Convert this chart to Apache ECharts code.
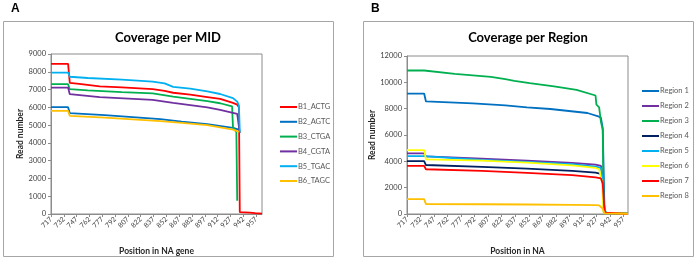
<!DOCTYPE html>
<html>
<head>
<meta charset="utf-8">
<script src="https://cdn.jsdelivr.net/npm/echarts@6/dist/echarts.min.js"></script>
<style>
  html, body { margin: 0; padding: 0; background: #fff; }
  #chart { width: 697px; height: 261px; }
</style>
</head>
<body>
<div id="chart"></div>
<script>
// --- tick labels ---
const positionTicks = [717, 732, 747, 762, 777, 792, 807, 822, 837, 852, 867, 882, 897, 912, 927, 942, 957]

// --- A: coverage per MID, [position, read number] ---
const b1Actg = [[717, 8450], [737, 8450], [739, 7380], [750, 7320], [774, 7180], [800, 7120], [836, 7020], [850, 6920], [860, 6820], [880, 6720], [900, 6580], [915, 6470], [930, 6250], [935, 6150], [937, 6000], [938, 100], [950, 80], [956, 50], [964, 20]]
const b2Agtc = [[717, 6010], [737, 6010], [739, 5670], [780, 5560], [845, 5335], [870, 5200], [900, 5050], [930, 4850], [937, 4750]]
const b3Ctga = [[717, 7300], [737, 7300], [739, 7020], [760, 6950], [800, 6850], [836, 6780], [860, 6600], [900, 6350], [915, 6230], [929, 6050], [930, 4900], [934, 4600], [935, 750]]
const b4Cgta = [[717, 7110], [737, 7110], [739, 6740], [774, 6570], [836, 6420], [860, 6250], [900, 6000], [915, 5860], [935, 5630], [937, 5550], [938, 4550]]
const b5Tgac = [[717, 7950], [737, 7950], [739, 7720], [760, 7650], [800, 7560], [836, 7450], [850, 7350], [860, 7150], [880, 7050], [900, 6900], [915, 6750], [930, 6520], [935, 6320], [937, 6100], [938, 4600]]
const b6Tagc = [[717, 5800], [737, 5800], [739, 5520], [780, 5420], [845, 5220], [870, 5120], [900, 5000], [930, 4750], [937, 4620]]

// --- B: coverage per region ---
const region1 = [[717, 9150], [736, 9150], [738, 8550], [790, 8400], [826, 8250], [850, 8100], [876, 7975], [917, 7670], [929, 7420], [932, 7300], [934, 6500], [936, 150], [940, 60], [962, 30]]
const region2 = [[717, 4600], [736, 4600], [738, 4380], [800, 4200], [850, 4050], [900, 3880], [926, 3750], [932, 3650], [934, 2800], [936, 100], [962, 20]]
const region3 = [[717, 10900], [736, 10900], [738, 10780], [770, 10650], [810, 10420], [826, 10240], [836, 10110], [853, 9940], [880, 9700], [905, 9430], [926, 9000], [927, 8300], [930, 8100], [932, 7000], [934, 6400], [935, 200], [940, 60], [962, 30]]
const region4 = [[717, 4020], [736, 4020], [738, 3720], [800, 3580], [850, 3450], [900, 3280], [926, 3150], [932, 3050], [934, 2400], [936, 100], [962, 20]]
const region5 = [[717, 4400], [736, 4400], [738, 4250], [800, 4100], [850, 3950], [900, 3780], [926, 3600], [932, 3500], [934, 2600], [936, 100], [962, 20]]
const region6 = [[717, 4850], [736, 4850], [738, 4150], [800, 4050], [850, 3900], [900, 3700], [926, 3500], [930, 3400], [933, 2500], [935, 100], [962, 20]]
const region7 = [[717, 3650], [736, 3650], [738, 3400], [800, 3280], [850, 3120], [900, 2950], [926, 2780], [932, 2700], [934, 2300], [936, 100], [937, 30], [962, 0]]
const region8 = [[717, 1130], [736, 1130], [738, 750], [800, 740], [850, 720], [900, 700], [926, 680], [930, 660], [934, 400], [936, 50], [962, 20]]

const MID_SERIES = [
  { name: 'B1_ACTG', data: b1Actg, color: '#ff0000' },
  { name: 'B2_AGTC', data: b2Agtc, color: '#0070c0' },
  { name: 'B3_CTGA', data: b3Ctga, color: '#00b050' },
  { name: 'B4_CGTA', data: b4Cgta, color: '#7030a0' },
  { name: 'B5_TGAC', data: b5Tgac, color: '#00b0f0' },
  { name: 'B6_TAGC', data: b6Tagc, color: '#ffc000' }
]
const REGION_SERIES = [
  { name: 'Region 1', data: region1, color: '#0070c0' },
  { name: 'Region 2', data: region2, color: '#7030a0' },
  { name: 'Region 3', data: region3, color: '#00b050' },
  { name: 'Region 4', data: region4, color: '#002060' },
  { name: 'Region 5', data: region5, color: '#00b0f0' },
  { name: 'Region 6', data: region6, color: '#ffff00' },
  { name: 'Region 7', data: region7, color: '#ff0000' },
  { name: 'Region 8', data: region8, color: '#ffc000' }
]

const FONT = 'Lato, "Open Sans", sans-serif'
const AXIS_GREY = '#8c8c8c'
const LABEL_COLOR = '#404040'

const xAxisBase = (gridIndex, max, name) => ({
  type: 'value',
  gridIndex,
  min: 717,
  max,
  name,
  nameLocation: 'middle',
  nameGap: 33,
  nameTextStyle: { fontFamily: FONT, fontSize: 8.5, fontWeight: 'bold', color: '#262626' },
  splitLine: { show: false },
  axisLine: { lineStyle: { color: AXIS_GREY } },
  axisTick: { customValues: positionTicks, length: 3, lineStyle: { color: AXIS_GREY } },
  axisLabel: {
    customValues: positionTicks,
    rotate: 45,
    fontFamily: FONT,
    fontSize: 7,
    color: LABEL_COLOR,
    margin: 4,
    formatter: v => String(v)
  }
})

const yAxisBase = (gridIndex, max, interval) => ({
  type: 'value',
  gridIndex,
  min: 0,
  max,
  interval,
  name: 'Read number',
  nameLocation: 'middle',
  nameGap: 25,
  nameTextStyle: { fontFamily: FONT, fontSize: 8.5, fontWeight: 'bold', color: '#262626' },
  splitLine: { show: false },
  axisLine: { show: true, lineStyle: { color: AXIS_GREY } },
  axisTick: { show: true, length: 3, lineStyle: { color: AXIS_GREY } },
  axisLabel: { fontFamily: FONT, fontSize: 7.5, color: LABEL_COLOR, margin: 5, formatter: v => String(v) }
})

const toSeries = (list, idx) => list.map(s => ({
  name: s.name,
  type: 'line',
  xAxisIndex: idx,
  yAxisIndex: idx,
  data: s.data,
  showSymbol: false,
  symbol: 'none',
  color: s.color,
  lineStyle: { width: 1.8, color: s.color },
  animation: false
}))

const legendBase = (names, left, top, gap) => ({
  data: names,
  orient: 'vertical',
  left,
  top,
  itemWidth: 17,
  itemHeight: 2,
  itemGap: gap,
  icon: 'rect',
  textStyle: { fontFamily: FONT, fontSize: 7.5, color: '#595959', lineHeight: 10, padding: [0, 0, 0, -4] }
})

const chart = echarts.init(document.getElementById('chart'))

chart.setOption({
  backgroundColor: '#fff',
  animation: false,
  graphic: [
    { type: 'rect', shape: { x: 3.5, y: 21.5, width: 330, height: 235 }, style: { fill: 'none', stroke: '#a6a6a6', lineWidth: 1 } },
    { type: 'rect', shape: { x: 363.5, y: 21.5, width: 330, height: 235 }, style: { fill: 'none', stroke: '#a6a6a6', lineWidth: 1 } },
    { type: 'text', style: { text: 'A', x: 11, y: 9, textVerticalAlign: 'middle', font: 'bold 12px "Liberation Sans", sans-serif', fill: '#000' } },
    { type: 'text', style: { text: 'B', x: 371, y: 9, textVerticalAlign: 'middle', font: 'bold 12px "Liberation Sans", sans-serif', fill: '#000' } },
    { type: 'text', style: { text: 'Coverage per MID', x: 168, y: 38, textAlign: 'center', textVerticalAlign: 'middle', font: 'bold 13px ' + FONT, fill: '#000' } },
    { type: 'text', style: { text: 'Coverage per Region', x: 528, y: 38, textAlign: 'center', textVerticalAlign: 'middle', font: 'bold 13px ' + FONT, fill: '#000' } }
  ],
  grid: [
    { left: 51, top: 54, width: 211, height: 160, show: true, borderColor: AXIS_GREY, borderWidth: 1 },
    { left: 407, top: 56, width: 221, height: 159, show: true, borderColor: AXIS_GREY, borderWidth: 1 }
  ],
  xAxis: [
    xAxisBase(0, 964, 'Position in NA gene'),
    xAxisBase(1, 962, 'Position in NA')
  ],
  yAxis: [
    yAxisBase(0, 9000, 1000),
    yAxisBase(1, 12000, 2000)
  ],
  legend: [
    legendBase(MID_SERIES.map(s => s.name), 275, 97, 4.8),
    legendBase(REGION_SERIES.map(s => s.name), 637, 81, 5)
  ],
  series: [...toSeries(MID_SERIES, 0), ...toSeries(REGION_SERIES, 1)]
})
</script>
</body>
</html>
